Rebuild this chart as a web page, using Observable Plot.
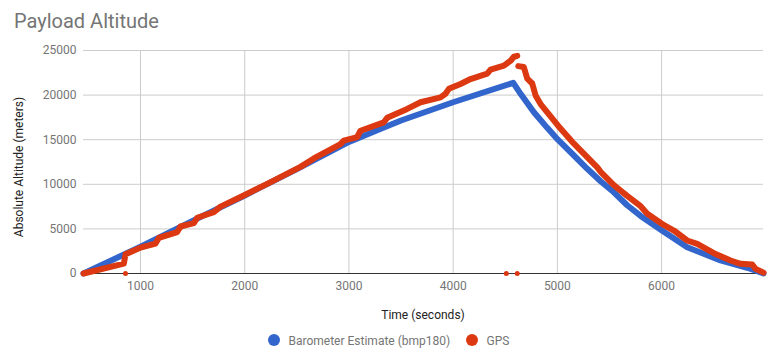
<!DOCTYPE html>
<html>
<head>
<meta charset="utf-8">
<script src="https://cdn.jsdelivr.net/npm/d3@7"></script>
<script src="https://cdn.jsdelivr.net/npm/@observablehq/plot@0.6"></script>
<style>
  body { margin: 0; background: #fff; }
  #chart { width: 778px; height: 358px; }
</style>
</head>
<body>
<div id="chart"></div>
<script>
// ---- Data ----
const baroTime = [453, 1000, 1500, 2000, 2500, 3000, 3300, 3500, 4000, 4577, 4647, 4775, 4903, 5005, 5159, 5287, 5415, 5542, 5670, 5799, 6000, 6246, 6566, 6822, 6978];
const baroAlt  = [0, 3000, 5900, 8750, 11700, 14750, 16200, 17150, 19200, 21380, 20140, 18080, 16330, 15000, 13230, 11740, 10350, 9100, 7650, 6450, 4850, 2950, 1460, 640, 0];

const gpsUpTime = [453, 840, 856, 1000, 1144, 1176, 1352, 1384, 1512, 1544, 1703, 1768, 2000, 2216, 2535, 2663, 2919, 2951, 3079, 3111, 3335, 3367, 3559, 3687, 3879, 3927, 3959, 4071, 4167, 4327, 4359, 4487, 4551, 4583, 4615];
const gpsUpAlt  = [0, 1100, 2150, 2900, 3350, 4000, 4650, 5270, 5650, 6250, 6880, 7500, 8800, 10050, 11950, 12900, 14500, 14900, 15300, 16000, 16950, 17450, 18450, 19200, 19750, 20150, 20700, 21250, 21800, 22400, 22850, 23300, 23850, 24300, 24400];

const gpsDownTime = [4625, 4678, 4711, 4759, 4791, 4839, 5005, 5159, 5383, 5415, 5542, 5607, 5670, 5799, 5863, 6003, 6118, 6246, 6342, 6502, 6662, 6758, 6870, 6902, 6978];
const gpsDownAlt  = [23250, 23150, 21850, 21300, 19950, 19000, 16600, 14550, 11900, 11400, 9900, 9300, 8700, 7550, 6700, 5570, 4820, 3700, 3330, 2280, 1460, 1090, 1010, 520, 100];

const gpsDropTime = [856, 4510, 4615];
const gpsDropAlt  = [0, 0, 0];

const xTicks = [1000, 2000, 3000, 4000, 5000, 6000];
const yTicks = [0, 5000, 10000, 15000, 20000, 25000];

const seriesNames = ["Barometer Estimate (bmp180)", "GPS"];
const seriesColors = ["#3366cc", "#dc3912"];

// ---- Chart ----
const gray = "#757575";
const lineStyle = {strokeWidth: 6, strokeLinecap: "round", strokeLinejoin: "round"};

const plot = Plot.plot({
  width: 778,
  height: 358,
  marginLeft: 83,
  marginRight: 15,
  marginTop: 50,
  marginBottom: 85,
  style: {fontFamily: "Roboto, sans-serif", fontSize: "12px", color: gray, background: "#fff"},
  x: {domain: [453, 6978]},
  y: {domain: [0, 25000]},
  marks: [
    Plot.gridX(xTicks, {stroke: "#cccccc", strokeOpacity: 1}),
    Plot.gridY(yTicks.filter(d => d > 0), {stroke: "#cccccc", strokeOpacity: 1}),
    Plot.axisX(xTicks, {tickSize: 0, tickPadding: 8, label: null, fill: gray, tickFormat: d3.format("d")}),
    Plot.axisY(yTicks, {tickSize: 0, tickPadding: 7, label: null, fill: gray, tickFormat: d3.format("d")}),
    Plot.ruleY([0], {stroke: "#333333", strokeWidth: 1}),
    Plot.line(baroAlt, {x: baroTime, y: baroAlt, stroke: seriesColors[0], ...lineStyle}),
    Plot.line(gpsUpAlt, {x: gpsUpTime, y: gpsUpAlt, stroke: seriesColors[1], ...lineStyle}),
    Plot.line(gpsDownAlt, {x: gpsDownTime, y: gpsDownAlt, stroke: seriesColors[1], ...lineStyle}),
    Plot.dot(gpsDropAlt, {x: gpsDropTime, y: gpsDropAlt, r: 2.5, fill: seriesColors[1]})
  ]
});

const svg = d3.select(plot);
svg.append("text")
  .attr("x", 14).attr("y", 28)
  .attr("text-anchor", "start")
  .attr("font-size", 20).attr("fill", gray)
  .text("Payload Altitude");

svg.append("text")
  .attr("x", 423).attr("y", 319)
  .attr("text-anchor", "middle")
  .attr("font-size", 12).attr("fill", "#222")
  .text("Time (seconds)");

svg.append("text")
  .attr("transform", "translate(23,167) rotate(-90)")
  .attr("text-anchor", "middle")
  .attr("font-size", 12).attr("fill", "#222")
  .text("Absolute Altitude (meters)");

const legendX = [274, 472];
seriesNames.forEach((name, i) => {
  svg.append("circle").attr("cx", legendX[i]).attr("cy", 340).attr("r", 6).attr("fill", seriesColors[i]);
  svg.append("text").attr("x", legendX[i] + 14.5).attr("y", 344.5)
    .attr("text-anchor", "start")
    .attr("font-size", 12).attr("fill", gray).text(name);
});

document.getElementById("chart").appendChild(plot);
</script>
</body>
</html>
